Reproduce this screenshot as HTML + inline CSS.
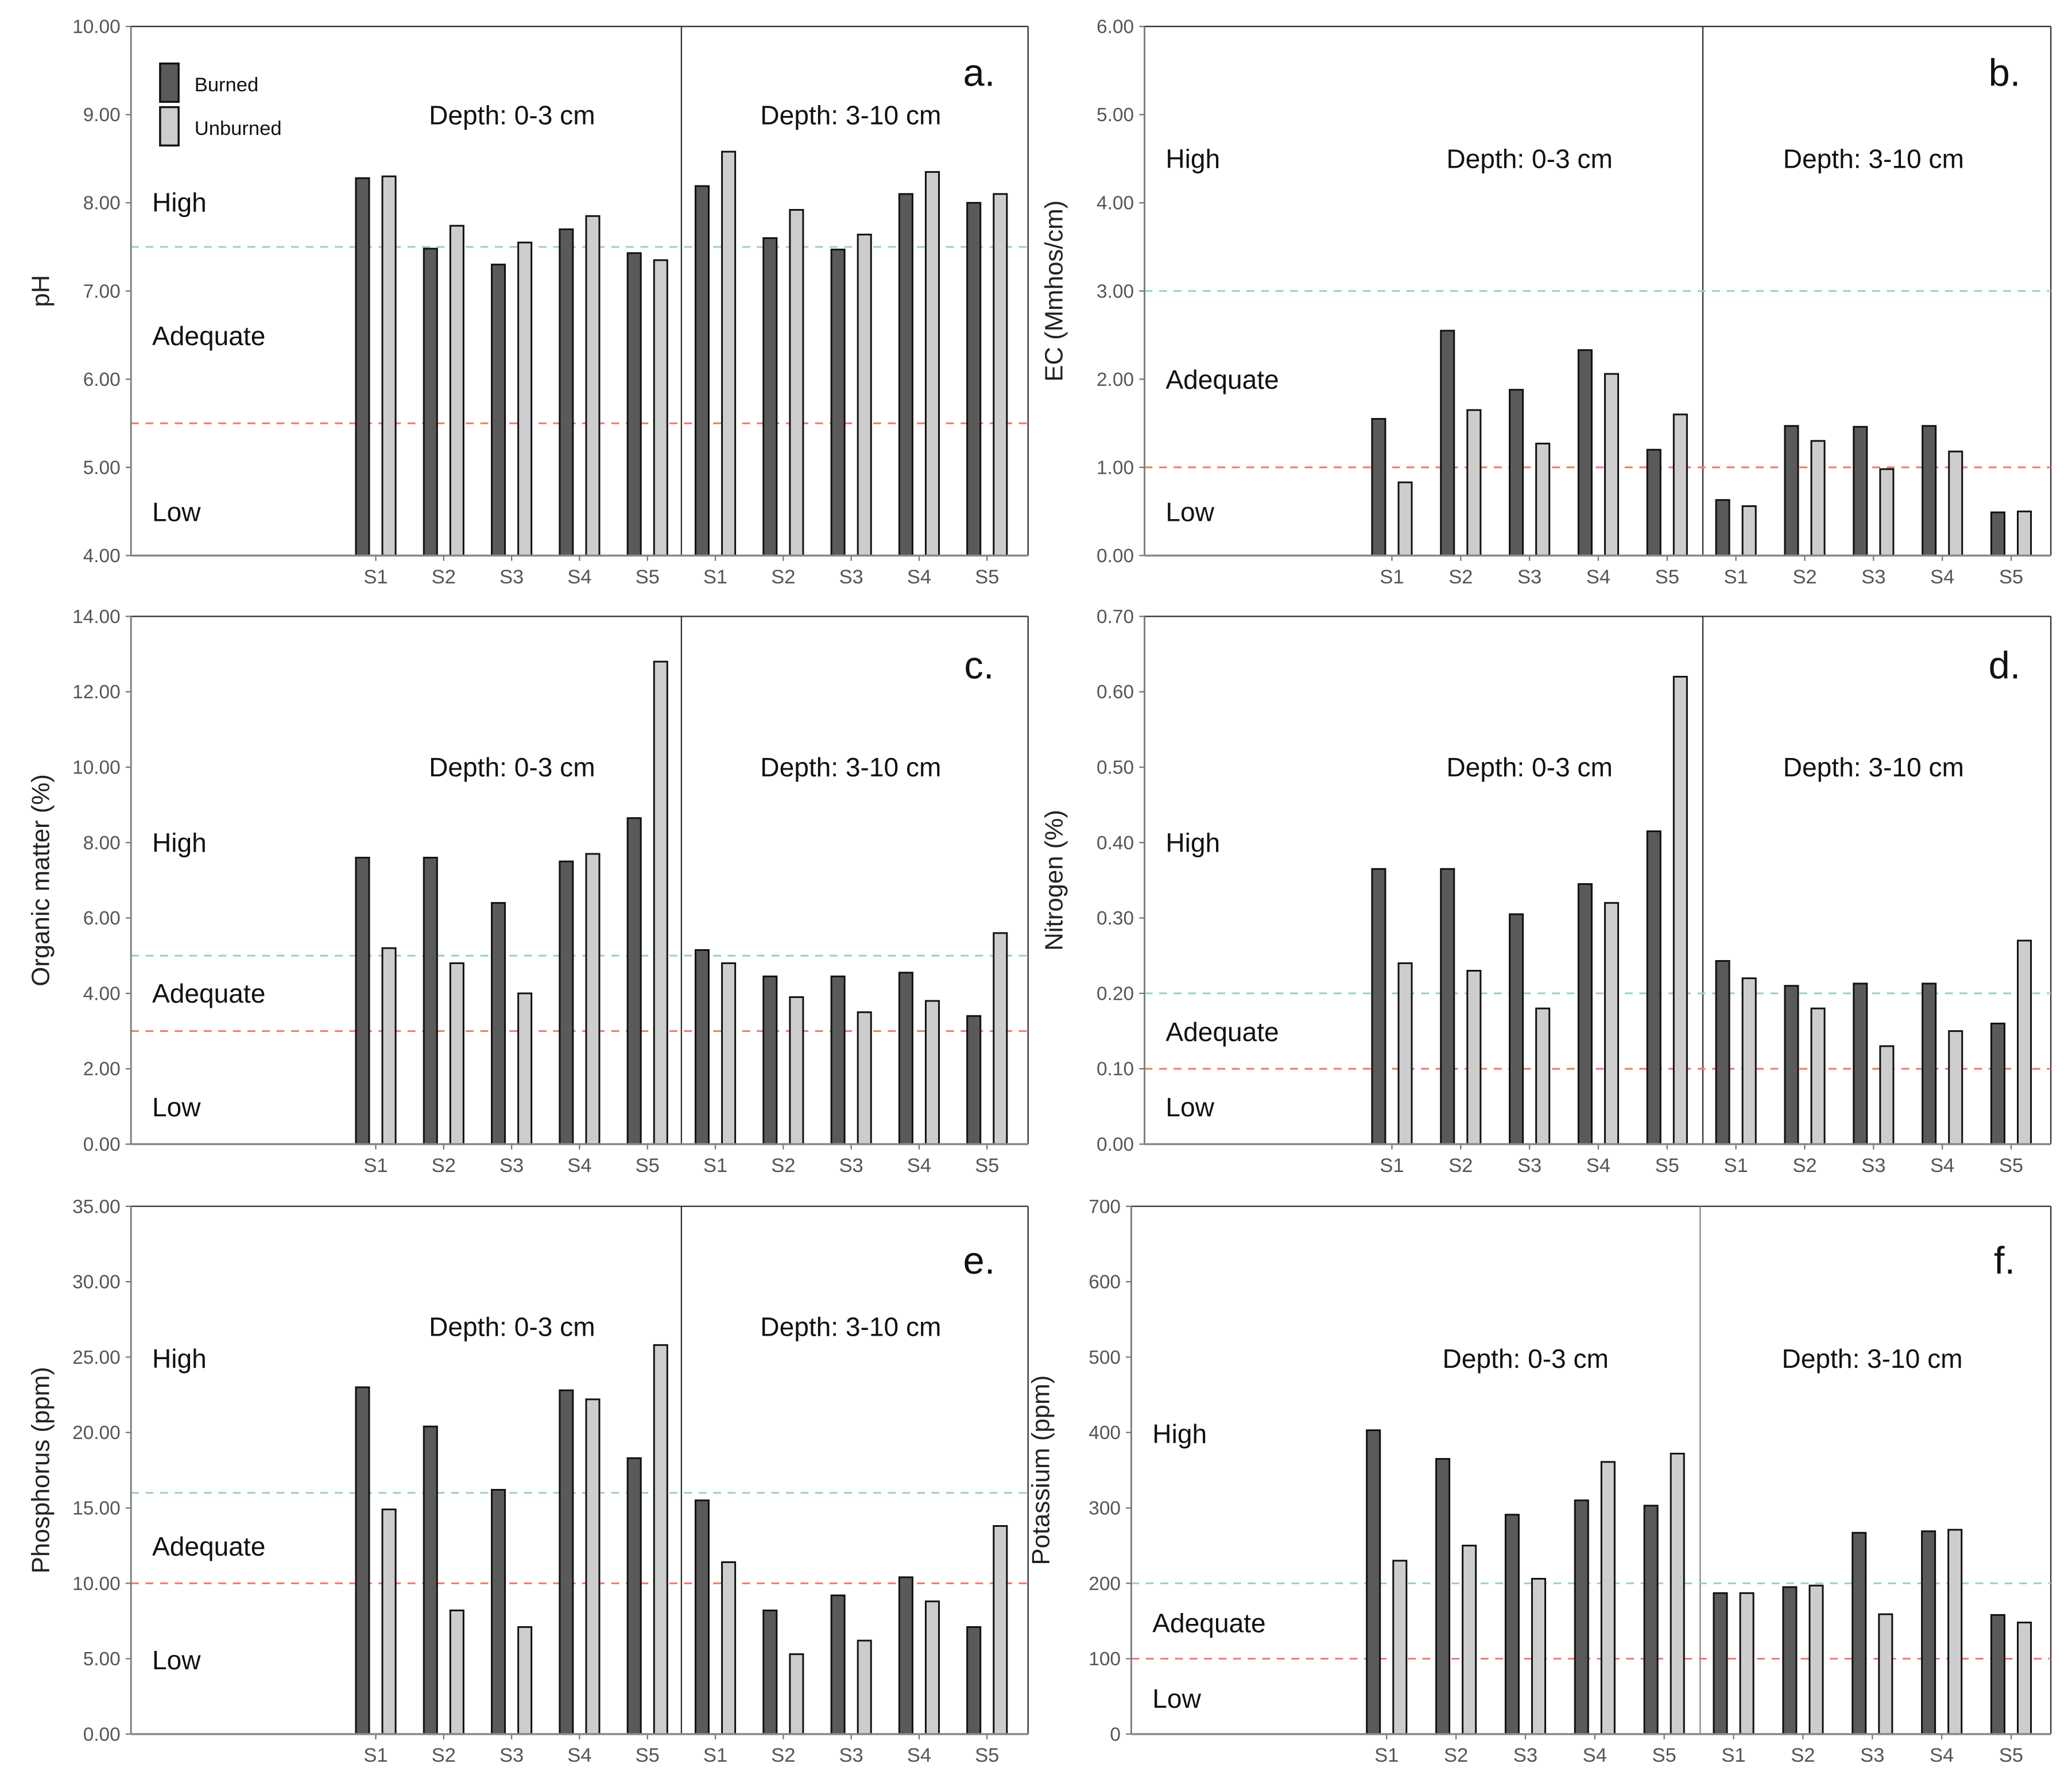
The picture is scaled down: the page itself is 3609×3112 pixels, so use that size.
<!DOCTYPE html>
<html><head><meta charset="utf-8"><style>
html,body{margin:0;padding:0;background:#fff}
svg{display:block}
text{font-family:"Liberation Sans",sans-serif}
</style></head><body>
<svg id="chart" xmlns="http://www.w3.org/2000/svg" width="3609" height="3112" viewBox="0 0 1566 1351" preserveAspectRatio="none"></svg>
<script>
const categories = ["S1","S2","S3","S4","S5","S1","S2","S3","S4","S5"];
const seriesNames = ["Burned","Unburned"];
const phBurned = [8.28,7.48,7.30,7.70,7.43,8.19,7.60,7.47,8.10,8.00];
const phUnburned = [8.30,7.74,7.55,7.85,7.35,8.58,7.92,7.64,8.35,8.10];
const ecBurned = [1.55,2.55,1.88,2.33,1.20,0.63,1.47,1.46,1.47,0.49];
const ecUnburned = [0.83,1.65,1.27,2.06,1.60,0.56,1.30,0.98,1.18,0.50];
const omBurned = [7.6,7.6,6.4,7.5,8.65,5.15,4.45,4.45,4.55,3.4];
const omUnburned = [5.2,4.8,4.0,7.7,12.8,4.8,3.9,3.5,3.8,5.6];
const nBurned = [0.365,0.365,0.305,0.345,0.415,0.243,0.21,0.213,0.213,0.16];
const nUnburned = [0.24,0.23,0.18,0.32,0.62,0.22,0.18,0.13,0.15,0.27];
const pBurned = [23.0,20.4,16.2,22.8,18.3,15.5,8.2,9.2,10.4,7.1];
const pUnburned = [14.9,8.2,7.1,22.2,25.8,11.4,5.3,6.2,8.8,13.8];
const kBurned = [403,365,291,310,303,187,195,267,269,158];
const kUnburned = [230,250,206,361,372,187,197,159,271,148];
const phThresholds = [7.5,5.5];
const ecThresholds = [3,1];
const omThresholds = [5,3];
const nThresholds = [0.2,0.1];
const pThresholds = [16,10];
const kThresholds = [200,100];

const NS="http://www.w3.org/2000/svg";
const svg=document.getElementById('chart');
function el(tag,attrs,parent){const e=document.createElementNS(NS,tag);for(const k in attrs)e.setAttribute(k,attrs[k]);(parent||svg).appendChild(e);return e;}

const panels=[
 {id:'a',title:'pH',b:phBurned,u:phUnburned,th:phThresholds,min:4,max:10,step:1,dec:2,x0:99,x1:777,div:515,c0:284,c9:746,top:20,bot:420,lbl:[153,254,387],depthY:87,d1:387,d2:643,letterX:740,letterY:55,legend:true},
 {id:'b',title:'EC (Mmhos/cm)',b:ecBurned,u:ecUnburned,th:ecThresholds,min:0,max:6,step:1,dec:2,x0:865,x1:1550,div:1287,c0:1052,c9:1520,top:20,bot:420,lbl:[120,287,387],depthY:120,d1:1156,d2:1416,letterX:1515,letterY:55},
 {id:'c',title:'Organic matter (%)',b:omBurned,u:omUnburned,th:omThresholds,min:0,max:14,step:2,dec:2,x0:99,x1:777,div:515,c0:284,c9:746,top:466,bot:865,lbl:[637,751,837],depthY:580,d1:387,d2:643,letterX:740,letterY:503},
 {id:'d',title:'Nitrogen (%)',b:nBurned,u:nUnburned,th:nThresholds,min:0,max:0.7,step:0.1,dec:2,x0:865,x1:1550,div:1287,c0:1052,c9:1520,top:466,bot:865,lbl:[637,780,837],depthY:580,d1:1156,d2:1416,letterX:1515,letterY:503},
 {id:'e',title:'Phosphorus (ppm)',b:pBurned,u:pUnburned,th:pThresholds,min:0,max:35,step:5,dec:2,x0:99,x1:777,div:515,c0:284,c9:746,top:912,bot:1311,lbl:[1027,1169,1255],depthY:1003,d1:387,d2:643,letterX:740,letterY:953},
 {id:'f',title:'Potassium (ppm)',b:kBurned,u:kUnburned,th:kThresholds,min:0,max:700,step:100,dec:0,x0:855,x1:1550,div:1285,c0:1048,c9:1520,top:912,bot:1311,lbl:[1084,1227,1284],depthY:1027,d1:1153,d2:1415,letterX:1515,letterY:953}
];

panels.forEach(p=>{
 const g=el('g',{});
 
 
 const y=v=>p.bot-(v-p.min)/(p.max-p.min)*(p.bot-p.top);
 const xc=i=>p.c0+i*(p.c9-p.c0)/(categories.length-1);
 el('line',{x1:p.x0,y1:p.top,x2:p.x1,y2:p.top,stroke:'#333','stroke-width':1},g);
 el('line',{x1:p.x1,y1:p.top,x2:p.x1,y2:p.bot,stroke:'#333','stroke-width':1},g);
 el('line',{x1:p.div,y1:p.top,x2:p.div,y2:p.bot,stroke:p.id==='f'?'#888':'#333','stroke-width':1},g);
 const hl=el('line',{x1:p.x0,y1:y(p.th[0]),x2:p.x1,y2:y(p.th[0]),stroke:'#9ccfc4','stroke-width':1.3,'stroke-dasharray':'6,5'},g);
 
 
 const ll=el('line',{x1:p.x0,y1:y(p.th[1]),x2:p.x1,y2:y(p.th[1]),stroke:'#f0776a','stroke-width':1.3,'stroke-dasharray':'6,5'},g);
 
 
 categories.forEach((c,i)=>{
  const cx=xc(i);
  const rb=el('rect',{x:cx-15,y:y(p.b[i]),width:10,height:y(p.min)-y(p.b[i]),fill:'#5a5a5a',stroke:'#111','stroke-width':1.3},g);
  
  
  const ru=el('rect',{x:cx+5,y:y(p.u[i]),width:10,height:y(p.min)-y(p.u[i]),fill:'#cdcdcd',stroke:'#111','stroke-width':1.3},g);
  
  
  el('line',{x1:cx,y1:p.bot,x2:cx,y2:p.bot+4,stroke:'#777'},g);
  const t=el('text',{x:cx,y:p.bot+21,'font-size':15,fill:'#555','text-anchor':'middle'},g);
  t.textContent=c;
  
  
 });
 el('line',{x1:p.x0,y1:p.top,x2:p.x0,y2:p.bot,stroke:'#777','stroke-width':1.2},g);
 el('line',{x1:p.x0,y1:p.bot,x2:p.x1,y2:p.bot,stroke:'#888','stroke-width':1.5},g);
 const n=Math.round((p.max-p.min)/p.step);
 for(let k=0;k<=n;k++){
  const v=p.min+k*p.step;
  el('line',{x1:p.x0-4,y1:y(v),x2:p.x0,y2:y(v),stroke:'#777'},g);
  const t=el('text',{x:p.x0-8,y:y(v)+5,'font-size':14.5,fill:'#555','text-anchor':'end'},g);
  t.textContent=v.toFixed(p.dec);
  
  
 }
 const yt=el('text',{x:0,y:0,'font-size':19,fill:'#222','text-anchor':'middle',transform:`translate(${p.x0-62},${(p.top+p.bot)/2}) rotate(-90)`},g);
 yt.textContent=p.title;
 
 
 ['High','Adequate','Low'].forEach((s,j)=>{
  const t=el('text',{x:p.x0+16,y:p.lbl[j]+7,'font-size':20,fill:'#111'},g);
  t.textContent=s;
  
  
 });
 [[p.d1,'Depth: 0-3 cm'],[p.d2,'Depth: 3-10 cm']].forEach(([x,s])=>{
  const t=el('text',{x:x,y:p.depthY+7,'font-size':20,fill:'#111','text-anchor':'middle'},g);
  t.textContent=s;
  
  
 });
 const lt=el('text',{x:p.letterX,y:p.letterY+10,'font-size':29,fill:'#111','text-anchor':'middle'},g);
 lt.textContent=p.id+'.';
 
 
 if(p.legend){
  const lg=el('g',{},g);
  
  
  [['#5a5a5a',48],['#cdcdcd',81]].forEach(([f,yy],j)=>{
   el('rect',{x:121,y:yy,width:14,height:29,fill:f,stroke:'#111','stroke-width':1.5},lg);
   const t=el('text',{x:147,y:yy+21,'font-size':15,fill:'#111'},lg);
   t.textContent=seriesNames[j];
   
   
  });
 }
});
</script>
</body></html>
